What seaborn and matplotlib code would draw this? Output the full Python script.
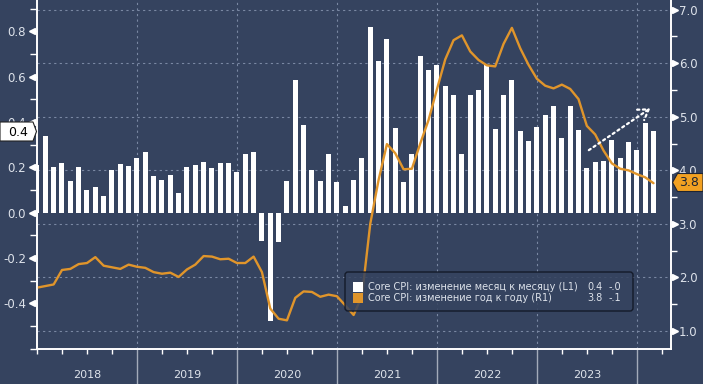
import matplotlib
matplotlib.use("Agg")
import matplotlib.pyplot as plt
import matplotlib.transforms as mtransforms
from matplotlib.patches import Polygon, FancyBboxPatch, Rectangle
import numpy as np
import pandas as pd
import seaborn as sns

W, H = 703, 384
BG = "#35435F"
ORANGE = "#E0952B"
TAG_ORANGE = "#F2A122"
TEXT = "#DDE2EA"
GRID = "#7A88A3"

# Core CPI, Dec 2017 .. Feb 2024, monthly, plotted at month end
years = ["2018", "2019", "2020", "2021", "2022", "2023"]
mom = [
    0.21,
    0.34, 0.20, 0.22, 0.14, 0.20, 0.10, 0.115, 0.075, 0.19, 0.215, 0.205, 0.24,
    0.27, 0.16, 0.145, 0.165, 0.085, 0.20, 0.21, 0.225, 0.195, 0.22, 0.22, 0.18,
    0.26, 0.27, -0.125, -0.48, -0.13, 0.14, 0.585, 0.385, 0.19, 0.14, 0.26, 0.135,
    0.03, 0.145, 0.24, 0.82, 0.67, 0.765, 0.375, 0.135, 0.26, 0.69, 0.63, 0.65,
    0.56, 0.52, 0.26, 0.52, 0.54, 0.65, 0.37, 0.52, 0.585, 0.36, 0.315, 0.38,
    0.43, 0.47, 0.33, 0.47, 0.365, 0.195, 0.225, 0.23, 0.32, 0.24, 0.31, 0.275,
    0.395, 0.36,
]
yoy = [
    1.81,
    1.84, 1.87, 2.14, 2.16, 2.25, 2.27, 2.38, 2.22, 2.19, 2.16, 2.24, 2.20,
    2.18, 2.10, 2.07, 2.09, 2.01, 2.15, 2.24, 2.40, 2.39, 2.34, 2.35, 2.27,
    2.27, 2.39, 2.10, 1.42, 1.23, 1.20, 1.62, 1.74, 1.73, 1.64, 1.68, 1.65,
    1.48, 1.30, 1.65, 3.00, 3.82, 4.49, 4.32, 4.02, 4.03, 4.50, 4.94, 5.51,
    6.07, 6.43, 6.52, 6.22, 6.06, 5.96, 5.94, 6.36, 6.66, 6.28, 5.97, 5.71,
    5.58, 5.53, 5.60, 5.52, 5.33, 4.83, 4.67, 4.37, 4.13, 4.03, 4.00, 3.93,
    3.87, 3.76,
]
left_ticks = [-0.4, -0.2, 0.0, 0.2, 0.4, 0.6, 0.8]
right_ticks = [1.0, 2.0, 3.0, 4.0, 5.0, 6.0, 7.0]
legend_rows = [
    ("Core CPI: изменение месяц к месяцу (L1)", "0.4", "-.0", "white"),
    ("Core CPI: изменение год к году (R1)", "3.8", "-.1", ORANGE),
]

df = pd.DataFrame({"idx": np.arange(len(mom)), "mom": mom, "yoy": yoy})

sns.set_style("dark", {"axes.facecolor": BG, "figure.facecolor": BG})
plt.rcParams["font.family"] = ["DejaVu Sans"]

fig = plt.figure(figsize=(W / 100, H / 100), dpi=100)
fig.patch.set_facecolor(BG)
ax = fig.add_axes([37 / W, (H - 349) / H, (671 - 37) / W, 349 / H])
ax2 = ax.twinx()

# pixel coords (origin top-left) -> figure
pix = mtransforms.Affine2D().scale(1 / W, -1 / H).translate(0, 1) + fig.transFigure

sns.barplot(data=df, x="idx", y="mom", native_scale=True, color="white",
            saturation=1, width=0.6, linewidth=0, errorbar=None, ax=ax, zorder=3)
sns.lineplot(data=df, x="idx", y="yoy", color=ORANGE, linewidth=1.7, ax=ax2)

for a in (ax, ax2):
    a.set_xlim(0, 76.1)
    a.set_xlabel("")
    a.set_ylabel("")
ax.set_ylim(-0.602, 0.939)
ax2.set_ylim(0.665, 7.18)

# gridlines: horizontal follow the right axis, vertical at year boundaries
hgrid = mtransforms.blended_transform_factory(ax.transAxes, ax2.transData)
for v in right_ticks:
    ax.plot([0, 1], [v, v], transform=hgrid, color=GRID, lw=0.8,
            ls=(0, (2, 3)), zorder=1)
year_bounds = [12, 24, 36, 48, 60, 72]
for xb in year_bounds:
    ax.axvline(xb, color=GRID, lw=0.8, ls=(0, (2, 3)), zorder=1)

# x axis
ax.set_xticks(year_bounds)
ax.set_xticklabels([])
ax.set_xticks([q for q in range(0, 76, 3) if q not in year_bounds], minor=True)
ax.tick_params(axis="x", which="major", length=26, width=1, color="#A3ABBA",
               direction="out", bottom=True)
ax.tick_params(axis="x", which="minor", length=3.5, width=1, color="white",
               direction="out", bottom=True)
ax2.tick_params(axis="x", which="both", bottom=False, top=False)
for i, yr in enumerate(years):
    ax.text(6 + 12 * i, -0.075, yr, transform=ax.get_xaxis_transform(),
            ha="center", va="center", color=TEXT, fontsize=8)

# left axis
ax.set_yticks(left_ticks)
ax.set_yticklabels([f"{t:.1f}" for t in left_ticks])
ax.set_yticks([-0.6, -0.5, -0.3, -0.1, 0.1, 0.3, 0.5, 0.7, 0.9], minor=True)
ax.tick_params(axis="y", which="both", length=5, width=1, color="white",
               labelcolor=TEXT, labelsize=8.5, pad=3, left=True)
caret_l = mtransforms.offset_copy(
    mtransforms.blended_transform_factory(ax.transAxes, ax.transData),
    fig=fig, x=-5, y=0, units="dots")
ax.plot([0] * len(left_ticks), left_ticks, transform=caret_l, ls="none",
        marker="<", ms=4.5, color="white", clip_on=False)

# right axis
ax2.set_yticks(right_ticks)
ax2.set_yticklabels([f"{t:.1f}" for t in right_ticks])
ax2.set_yticks([1.5, 2.5, 3.5, 4.5, 5.5, 6.5], minor=True)
ax2.tick_params(axis="y", which="both", length=4, width=1, color="white",
                labelcolor=TEXT, labelsize=8.5, pad=1.5, right=True)
caret_r = mtransforms.offset_copy(
    mtransforms.blended_transform_factory(ax2.transAxes, ax2.transData),
    fig=fig, x=4, y=0, units="dots")
ax2.plot([1] * len(right_ticks), right_ticks, transform=caret_r, ls="none",
         marker=">", ms=4.5, color="white", clip_on=False)

for a in (ax, ax2):
    a.grid(False)
    for side in ("left", "right", "bottom"):
        a.spines[side].set_color("white")
        a.spines[side].set_linewidth(1.2)
        a.spines[side].set_visible(True)
    a.spines["top"].set_visible(False)
ax2.patch.set_visible(False)

# dotted trend arrow
ax2.annotate("", xy=(73.9, 0.468), xytext=(65.96, 0.269),
             xycoords=ax.transData, textcoords=ax.transData,
             arrowprops=dict(arrowstyle="->,head_length=0.7,head_width=0.45",
                             color="white", lw=1.6, ls=(0, (1, 1.6))))

# last-value tags
fig.patches.append(Polygon([(0, 122), (33, 122), (36.5, 131.5), (33, 141), (0, 141)],
                           closed=True, transform=pix, facecolor="white",
                           edgecolor="#222222", lw=0.8))
fig.text(18, 132, "0.4", transform=pix, ha="center", va="center",
         color="black", fontsize=9)
fig.patches.append(Polygon([(672.5, 182.5), (677.5, 173.5), (703, 173.5), (703, 191.5),
                            (677.5, 191.5)], closed=True, transform=pix,
                           facecolor=TAG_ORANGE, edgecolor="#1E2433", lw=0.8))
fig.text(689, 183, "3.8", transform=pix, ha="center", va="center",
         color="#1E2433", fontsize=9)

# legend
fig.patches.append(FancyBboxPatch((345, 272), 288, 39, transform=pix,
                                  boxstyle="round,pad=0,rounding_size=3",
                                  facecolor=BG, edgecolor="#0E1320", lw=1.0,
                                  alpha=0.85))
for i, (label, val, chg, col) in enumerate(legend_rows):
    yc = 287 + 11 * i
    fig.patches.append(Rectangle((353, yc - 5), 10, 10, transform=pix,
                                 facecolor=col, edgecolor="none"))
    fig.text(368, yc, label, transform=pix, ha="left", va="center",
             color=TEXT, fontsize=7)
    fig.text(587, yc, val, transform=pix, ha="left", va="center",
             color=TEXT, fontsize=7)
    fig.text(609, yc, chg, transform=pix, ha="left", va="center",
             color=TEXT, fontsize=7)

fig.savefig("out.png", dpi=100, facecolor=BG)
